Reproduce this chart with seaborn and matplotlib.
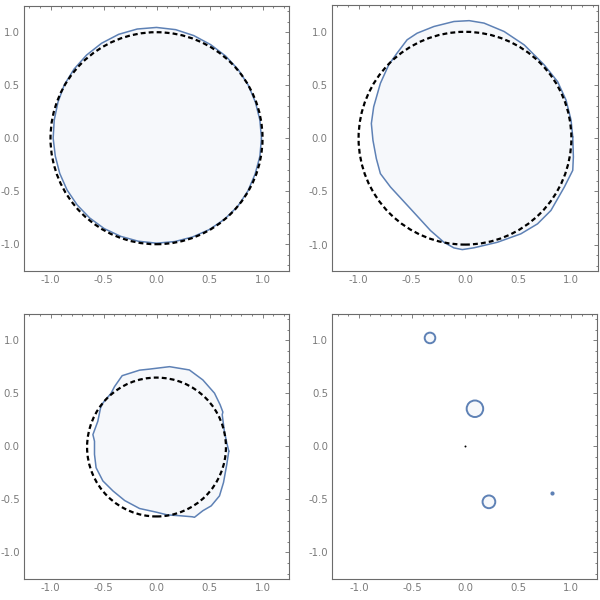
import matplotlib

matplotlib.use("Agg")
import matplotlib.patches as mpatches
import matplotlib.pyplot as plt
import matplotlib.ticker as ticker
import pandas as pd
import seaborn as sns

BLUE = "#5e81b5"
FRAME = "#6b6b6b"

# panel 1: nearly round region, traced counter-clockwise from the right
p1_x = [0.99, 0.975, 0.933, 0.866, 0.771, 0.651, 0.51, 0.352, 0.181, 0.0,
        -0.182, -0.357, -0.518, -0.659, -0.778, -0.87, -0.93, -0.965, -0.975,
        -0.955, -0.913, -0.844, -0.749, -0.631, -0.493, -0.337, -0.171, 0.0,
        0.172, 0.339, 0.498, 0.642, 0.766, 0.862, 0.93, 0.975]
p1_y = [0.0, 0.172, 0.34, 0.5, 0.647, 0.776, 0.883, 0.968, 1.024, 1.045,
        1.03, 0.98, 0.896, 0.785, 0.652, 0.503, 0.339, 0.17, 0.0, -0.168,
        -0.332, -0.488, -0.629, -0.752, -0.853, -0.926, -0.972, -0.99,
        -0.975, -0.932, -0.862, -0.764, -0.643, -0.498, -0.339, -0.172]

# panel 2: lumpier region
p2_x = [1.013, 0.997, 0.95, 0.871, 0.745, 0.557, 0.368, 0.179, 0.04, -0.104,
        -0.292, -0.45, -0.544, -0.639, -0.717, -0.795, -0.858, -0.88, -0.865,
        -0.833, -0.795, -0.70, -0.512, -0.324, -0.198, -0.104, -0.025, 0.085,
        0.305, 0.525, 0.682, 0.808, 0.934, 1.013, 1.019]
p2_y = [0.012, 0.17, 0.358, 0.531, 0.689, 0.877, 1.003, 1.082, 1.105, 1.097,
        1.05, 0.987, 0.925, 0.799, 0.689, 0.516, 0.295, 0.138, -0.019,
        -0.192, -0.333, -0.459, -0.663, -0.868, -0.978, -1.031, -1.047, -1.03,
        -0.978, -0.899, -0.805, -0.679, -0.459, -0.302, -0.176]

# panel 3: shrunken, jagged region
p3_x = [0.682, 0.663, 0.64, 0.62, 0.626, 0.60, 0.547, 0.437, 0.31, 0.123,
        -0.066, -0.16, -0.324, -0.396, -0.43, -0.506, -0.528, -0.554, -0.60,
        -0.585, -0.585, -0.57, -0.506, -0.41, -0.30, -0.16, 0.0, 0.1, 0.217,
        0.337, 0.358, 0.437, 0.516, 0.594, 0.632, 0.663]
p3_y = [-0.044, 0.034, 0.143, 0.30, 0.325, 0.394, 0.503, 0.628, 0.722, 0.753,
        0.73, 0.72, 0.668, 0.565, 0.50, 0.41, 0.363, 0.237, 0.112, 0.05,
        -0.075, -0.20, -0.325, -0.42, -0.51, -0.585, -0.62, -0.645, -0.653,
        -0.663, -0.668, -0.606, -0.56, -0.466, -0.34, -0.169]

# reference circles (center x, center y, radius)
ref_circles = [(0.0, 0.0, 1.0), (0.0, 0.0, 1.0), (0.0, -0.005, 0.655)]

# panel 4: small blobs
blob_x = [-0.33, 0.094, 0.226]
blob_y = [1.024, 0.356, -0.522]
blob_r = [0.05, 0.078, 0.06]
dot_x = [0.82]
dot_y = [-0.44]
origin_x = [0.0]
origin_y = [0.0]

sns.set_style("white")
plt.rcParams["font.family"] = ["DejaVu Sans"]
plt.rcParams["axes.unicode_minus"] = False


def closed(xs, ys):
    return pd.DataFrame({"x": list(xs) + [xs[0]], "y": list(ys) + [ys[0]]})


def style_axes(ax):
    ax.set_xlim(-1.25, 1.25)
    ax.set_ylim(-1.25, 1.25)
    ax.set_aspect("equal", adjustable="box")
    ax.xaxis.set_major_locator(ticker.MultipleLocator(0.5))
    ax.yaxis.set_major_locator(ticker.MultipleLocator(0.5))
    ax.xaxis.set_minor_locator(ticker.MultipleLocator(0.1))
    ax.yaxis.set_minor_locator(ticker.MultipleLocator(0.1))
    fmt = ticker.FormatStrFormatter("%.1f")
    ax.xaxis.set_major_formatter(fmt)
    ax.yaxis.set_major_formatter(fmt)
    ax.tick_params(which="both", direction="in", top=True, right=True,
                   color=FRAME, width=0.6, labelcolor="#7a7a7a",
                   labelsize=7.3, pad=3)
    ax.tick_params(which="major", length=3.0)
    ax.tick_params(which="minor", length=1.6)
    for s in ax.spines.values():
        s.set_color(FRAME)
        s.set_linewidth(0.8)
    ax.set_xlabel("")
    ax.set_ylabel("")


def draw_region(ax, xs, ys):
    df = closed(xs, ys)
    ax.fill(df.x, df.y, color=BLUE, alpha=0.05, lw=0)
    sns.lineplot(data=df, x="x", y="y", sort=False, estimator=None,
                 color=BLUE, lw=1.1, solid_joinstyle="round", ax=ax)


def draw_ref(ax, circ):
    cx, cy, r = circ
    ax.add_patch(mpatches.Circle((cx, cy), r, fill=False, color="black",
                                 lw=1.6, linestyle=(0, (2.2, 1.4)), zorder=3))


fig = plt.figure(figsize=(6, 6), dpi=100)
positions = [
    [0.04, 0.548, 0.4417, 0.4433],
    [0.5533, 0.548, 0.4433, 0.4433],
    [0.04, 0.035, 0.4417, 0.4417],
    [0.5533, 0.035, 0.4433, 0.4417],
]
axes = [fig.add_axes(p) for p in positions]

regions = [(p1_x, p1_y), (p2_x, p2_y), (p3_x, p3_y)]
for ax, (xs, ys), circ in zip(axes[:3], regions, ref_circles):
    draw_region(ax, xs, ys)
    draw_ref(ax, circ)
    style_axes(ax)

ax = axes[3]
for bx, by, br in zip(blob_x, blob_y, blob_r):
    ax.add_patch(mpatches.Circle((bx, by), br, facecolor=BLUE, alpha=0.05,
                                 lw=0))
    ax.add_patch(mpatches.Circle((bx, by), br, fill=False, edgecolor=BLUE,
                                 lw=1.4))
sns.scatterplot(x=dot_x, y=dot_y, color=BLUE, s=9, linewidth=0, ax=ax)
sns.scatterplot(x=origin_x, y=origin_y, color="black", s=2, linewidth=0,
                ax=ax)
style_axes(ax)

fig.savefig("out.png", dpi=100)
